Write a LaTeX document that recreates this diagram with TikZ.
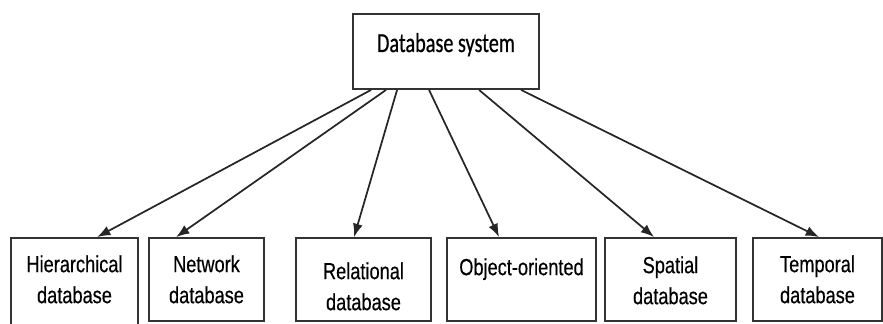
\documentclass[tikz,border=0pt]{standalone}
\usepackage{fontspec}
\newfontfamily\topfont{Carlito}[FakeStretch=0.74, FakeBold=0.6]
\newfontfamily\boxfont{Liberation Sans}[FakeStretch=0.78, FakeBold=0.4]
\usetikzlibrary{arrows.meta}

\begin{document}
\begin{tikzpicture}[x=0.75pt, y=-0.75pt,
        dbbox/.style={draw=black!80, line width=1.4pt, minimum height=62.25pt, inner sep=0pt},
        dbtext/.style={inner sep=0pt, align=center, anchor=north, font=\boxfont\fontsize{17.5}{23.25}\selectfont},
        dbarrow/.style={-{Latex[length=10pt, width=7.5pt]}, line width=1.3pt, black!85}]
        \useasboundingbox (0, 0) rectangle (883, 324);

        % top box
        \node[dbbox, minimum width=139.5pt, minimum height=56.25pt] (sys) at (446, 51.5) {};
        \node[anchor=base, inner sep=0pt, font=\topfont\fontsize{20.5}{24}\selectfont] (systext) at (446, 52) {Database system};

        % bottom boxes
        \node[dbbox, minimum width=95.25pt, minimum height=76.5pt] (hier) at (74.5, 289) {};
        \node[dbbox, minimum width=86.25pt] (net) at (206.5, 279.5) {};
        \node[dbbox, minimum width=101.25pt] (rel) at (363.5, 279.5) {};
        \node[dbbox, minimum width=111.75pt] (obj) at (521.5, 279.5) {};
        \node[dbbox, minimum width=98.25pt] (spat) at (670.5, 279.5) {};
        \node[dbbox, minimum width=96.75pt] (temp) at (817.5, 279.5) {};

        \node[dbtext] (hiertext) at (74.5, 255) {Hierarchical\\database};
        \node[dbtext] (nettext) at (206.5, 255) {Network\\database};
        \node[dbtext] (reltext) at (363.5, 262) {Relational\\database};
        \node[dbtext] (objtext) at (521.5, 258) {Object-oriented};
        \node[dbtext] (spattext) at (670.5, 256) {Spatial\\database};
        \node[dbtext] (temptext) at (817.5, 255) {Temporal\\database};

        % arrows
        \draw[dbarrow] ([xshift=14.25pt]sys.south west) -- ([xshift=65.25pt]hier.north west);
        \draw[dbarrow] ([xshift=25.5pt]sys.south west) -- ([xshift=21pt]net.north west);
        \draw[dbarrow] ([xshift=33.75pt]sys.south west) -- ([xshift=44.25pt]rel.north west);
        \draw[dbarrow] ([xshift=57.75pt]sys.south west) -- ([xshift=39.75pt]obj.north west);
        \draw[dbarrow] ([xshift=95.25pt]sys.south west) -- ([xshift=37.5pt]spat.north west);
        \draw[dbarrow] ([xshift=126.75pt]sys.south west) -- ([xshift=50.25pt]temp.north west);
    \end{tikzpicture}
\end{document}
